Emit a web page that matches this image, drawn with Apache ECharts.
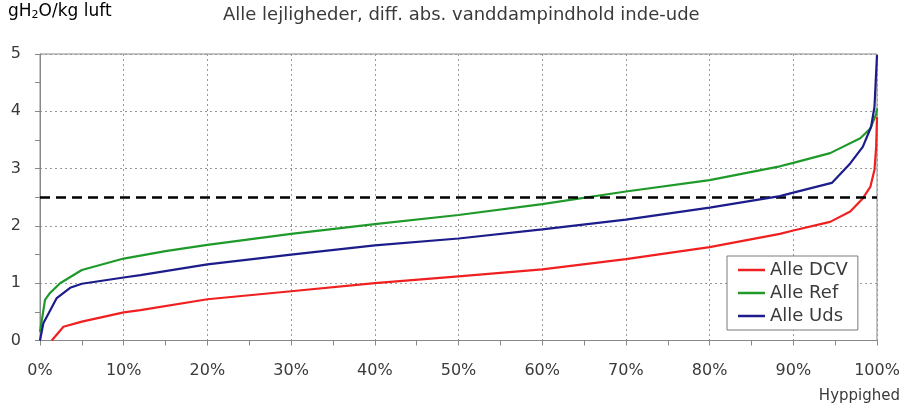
<!DOCTYPE html>
<html>
<head>
<meta charset="utf-8">
<script src="https://cdn.jsdelivr.net/npm/echarts@6/dist/echarts.min.js"></script>
<style>
html,body{margin:0;padding:0;background:#fff;}
#chart{width:904px;height:412px;}
</style>
</head>
<body>
<div id="chart"></div>
<script>
// ---- data ----
const xTickLabels = ['0%','10%','20%','30%','40%','50%','60%','70%','80%','90%','100%'];
const yTickLabels = ['0','1','2','3','4','5'];

const redPct = [1.4, 2.8, 5, 10, 12, 20, 30, 40, 50, 60, 70, 80, 88.4, 90, 94.4, 96.8, 98.3, 99.2, 99.7, 99.9, 100];
const redVal = [0, 0.24, 0.33, 0.49, 0.53, 0.72, 0.86, 1.0, 1.12, 1.24, 1.42, 1.63, 1.86, 1.92, 2.07, 2.25, 2.48, 2.68, 2.98, 3.38, 3.9];

const greenPct = [0, 0.6, 1.2, 2.4, 5, 10, 15, 20, 30, 40, 50, 60, 70, 80, 88.4, 90, 94.4, 98, 99.2, 99.9, 100];
const greenVal = [0.15, 0.71, 0.83, 1.0, 1.23, 1.43, 1.56, 1.67, 1.86, 2.03, 2.19, 2.38, 2.6, 2.8, 3.04, 3.1, 3.27, 3.53, 3.7, 3.95, 4.05];

const bluePct = [0, 0.4, 2, 3.6, 5, 10, 12, 20, 30, 40, 50, 60, 70, 80, 88.4, 90, 94.6, 96.8, 98.3, 99.3, 99.7, 100];
const blueVal = [0, 0.3, 0.74, 0.92, 0.99, 1.1, 1.14, 1.33, 1.5, 1.66, 1.78, 1.94, 2.11, 2.32, 2.52, 2.58, 2.75, 3.09, 3.38, 3.73, 4.08, 4.98];

const seriesNames = ['Alle DCV', 'Alle Ref', 'Alle Uds'];
const refLevel = 2.5;

function zip(xs, ys){ return xs.map((x,i)=>[x, ys[i]]); }

const FONT = 'DejaVu Sans';
const TXT = '#3a3a3a';
const chart = echarts.init(document.getElementById('chart'));

const option = {
  animation: false,
  backgroundColor: '#fff',
  title: {
    text: 'Alle lejligheder, diff. abs. vanddampindhold inde-ude',
    left: 218, top: 1,
    textStyle: {fontFamily: FONT, fontSize: 18, fontWeight: 'normal', color: TXT}
  },
  graphic: [
    {
      type: 'text', left: 8, top: 3,
      style: {
        text: '{a|gH}{s|2}{a|O/kg luft}',
        rich: {
          a: {fontFamily: FONT, fontSize: 17, color: TXT},
          s: {fontFamily: FONT, fontSize: 11, color: TXT, padding: [8,0,0,0]}
        }
      }
    },
    {
      type: 'text', right: 4, top: 389,
      style: {text: 'Hyppighed', fontFamily: FONT, fontSize: 15, fill: TXT}
    }
  ],
  legend: {
    data: seriesNames,
    orient: 'vertical',
    left: 727, top: 256,
    padding: [5, 10, 5, 11],
    itemGap: 5,
    icon: 'rect',
    itemWidth: 27, itemHeight: 2.5,
    backgroundColor: '#fff',
    borderColor: '#7a7a7a', borderWidth: 1, borderRadius: 0,
    textStyle: {fontFamily: FONT, fontSize: 18, color: TXT}
  },
  grid: {
    left: 40, right: 27, top: 54, bottom: 71.5,
    show: true, borderColor: '#888', borderWidth: 1
  },
  xAxis: {
    type: 'value', min: 0, max: 100, interval: 10,
    axisLine: {show: true, lineStyle: {color: '#888', width: 1}},
    axisTick: {show: true, length: 5, lineStyle: {color: '#888'}},
    minorTick: {show: true, splitNumber: 2, length: 5, lineStyle: {color: '#888'}},
    axisLabel: {
      margin: 22, fontFamily: FONT, fontSize: 16, color: TXT,
      formatter: (v) => xTickLabels[Math.round(v/10)]
    },
    splitLine: {show: true, lineStyle: {color: '#999', type: [2, 3], width: 1}}
  },
  yAxis: {
    type: 'value', min: 0, max: 5, interval: 1,
    axisLine: {show: true, lineStyle: {color: '#888', width: 1}},
    axisTick: {show: true, length: 5, lineStyle: {color: '#888'}},
    minorTick: {show: true, splitNumber: 2, length: 5, lineStyle: {color: '#888'}},
    axisLabel: {
      margin: 19, fontFamily: FONT, fontSize: 16, color: TXT,
      formatter: (v) => yTickLabels[Math.round(v)]
    },
    splitLine: {show: true, lineStyle: {color: '#999', type: [2, 3], width: 1}}
  },
  series: [
    {
      name: seriesNames[0], type: 'line', data: zip(redPct, redVal),
      symbol: 'none', smooth: false,
      lineStyle: {color: '#f02020', width: 2.2}, itemStyle: {color: '#f02020'},
      markLine: {
        silent: true, symbol: 'none', label: {show: false},
        lineStyle: {color: '#000', width: 2.5, type: [10, 6]},
        data: [[{coord: [0, refLevel]}, {coord: [100, refLevel]}]]
      },
      z: 3
    },
    {
      name: seriesNames[1], type: 'line', data: zip(greenPct, greenVal),
      symbol: 'none', lineStyle: {color: '#1f9a2a', width: 2.2}, itemStyle: {color: '#1f9a2a'}, z: 4
    },
    {
      name: seriesNames[2], type: 'line', data: zip(bluePct, blueVal),
      symbol: 'none', lineStyle: {color: '#1c1c8a', width: 2.2}, itemStyle: {color: '#1c1c8a'}, z: 5
    }
  ]
};
chart.setOption(option);
</script>
</body>
</html>
